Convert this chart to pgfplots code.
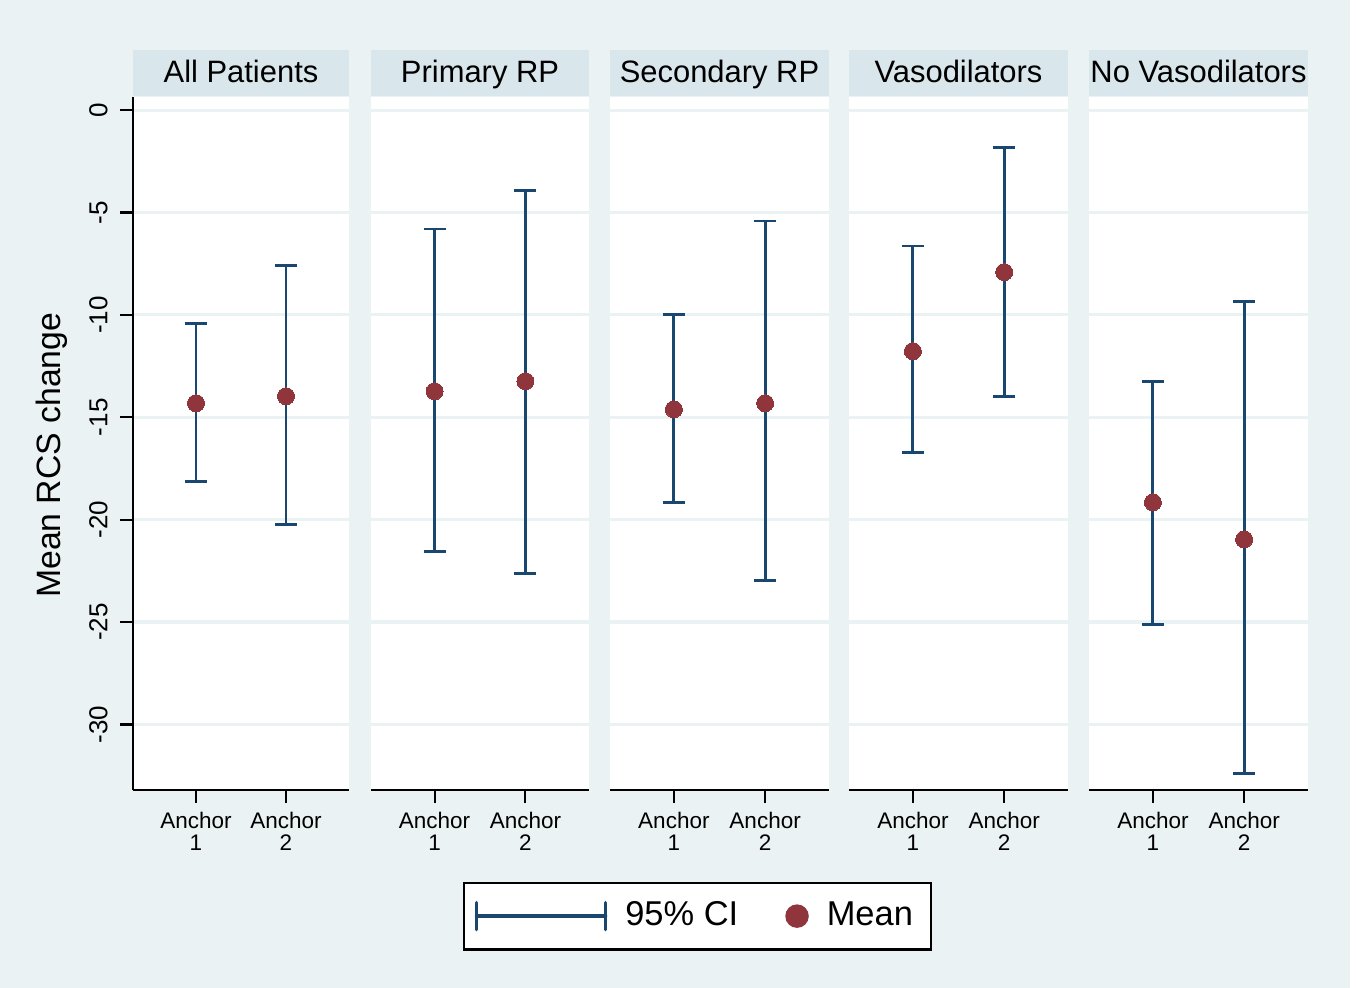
\documentclass[border=0pt]{standalone}
\usepackage{pgfplots}
\pgfplotsset{compat=1.18}
\usepackage{pgfplotstable}
\usepackage{fontspec}
\setmainfont{Liberation Sans}

\definecolor{bgc}{HTML}{EAF2F3}
\definecolor{hdrc}{HTML}{D9E6EB}
\definecolor{gridc}{HTML}{EAF2F3}
\definecolor{navy}{HTML}{1A476F}
\definecolor{maroon}{HTML}{90353B}

% x = anchor, y = mean, ep = upper - mean, em = mean - lower
\pgfplotstableread{
x y ep em
1 -14.31 3.90 3.81
2 -13.97 6.40 6.25
}\tA
\pgfplotstableread{
x y ep em
1 -13.73 7.92 7.81
2 -13.24 9.33 9.38
}\tB
\pgfplotstableread{
x y ep em
1 -14.61 4.64 4.54
2 -14.31 8.89 8.65
}\tC
\pgfplotstableread{
x y ep em
1 -11.77 5.13 4.94
2 -7.91 6.10 6.06
}\tD
\pgfplotstableread{
x y ep em
1 -19.15 5.91 5.96
2 -20.96 11.63 11.43
}\tE

\pgfplotsset{
  panel/.style={
    scale only axis, height=69.3mm,
    xmin=0.3, xmax=2.7, ymin=-33.2, ymax=0.64,
    axis background/.style={fill=white},
    axis x line*=bottom, axis y line*=left,
    axis line style={black, line width=0.6pt, -},
    xtick={1,2}, xticklabels={{Anchor\\1},{Anchor\\2}},
    ytick={-30,-25,-20,-15,-10,-5,0},
    yticklabels={-30,-25,-20,-15,-10,-5,0},
    ymajorgrids, grid style={gridc, line width=0.9pt},
    tick align=outside, major tick length=1.3mm,
    tick style={black, line width=0.6pt},
    xticklabel style={align=center, yshift=0.3mm, font=\fontsize{6.4}{6.2}\selectfont},
    yticklabel style={rotate=90, anchor=south, font=\fontsize{7.4}{8}\selectfont},
    every axis title shift=0pt,
    title style={at={(0.5,1)}, anchor=south, fill=hdrc, inner sep=0pt,
      minimum height=4.6mm, text height=2.6mm, text depth=0.8mm,
      font=\fontsize{8.8}{10}\selectfont},
  },
  noy/.style={y axis line style={draw=none}, ytick style={draw=none}, yticklabels={}},
  cistyle/.style={draw=none, mark=none,
    error bars/y dir=both, error bars/y explicit,
    error bars/error bar style={draw=navy, line width=0.8pt},
    error bars/error mark options={draw=navy, line width=0.8pt, mark size=1.1mm, rotate=90}},
  meanstyle/.style={only marks, mark=*, mark size=0.85mm,
    mark options={draw=maroon, fill=maroon, line width=0pt}},
}

\begin{document}
\begin{tikzpicture}
\fill[white] (-13.3mm,79mm) rectangle (122.4mm,-19.8mm);
\fill[bgc] (-13.3mm,79mm) rectangle (121.7mm,-19.8mm);

\begin{axis}[panel, at={(0mm,0mm)}, anchor=south west, width=21.6mm,
  title={All Patients}, title style={minimum width=21.6mm},
  ylabel={Mean RCS change},
  ylabel style={at={(-0.375,0.483)}, anchor=center, font=\fontsize{9.6}{11}\selectfont}]
\addplot[cistyle] table[x=x, y=y, y error plus=ep, y error minus=em] {\tA};
\addplot[meanstyle] table[x=x, y=y] {\tA};
\end{axis}

\begin{axis}[panel, noy, at={(23.8mm,0mm)}, anchor=south west, width=21.8mm,
  title={Primary RP}, title style={minimum width=21.8mm}]
\addplot[cistyle] table[x=x, y=y, y error plus=ep, y error minus=em] {\tB};
\addplot[meanstyle] table[x=x, y=y] {\tB};
\end{axis}

\begin{axis}[panel, noy, at={(47.7mm,0mm)}, anchor=south west, width=21.9mm,
  title={Secondary RP}, title style={minimum width=21.9mm},
  legend style={at={(0.399,-0.182)}, anchor=center, draw=black, line width=0.7pt,
    fill=white, inner xsep=1.1mm, inner ysep=1.15mm,
    font=\fontsize{9.8}{11}\selectfont,
    /tikz/every odd column/.append style={column sep=1.1mm},
    /tikz/every even column/.append style={column sep=4mm}},
  legend columns=2]
\addplot[cistyle, legend image code/.code={
  \draw[navy, line width=1pt, line cap=round] (0mm,0mm) -- (12.9mm,0mm);
  \draw[navy, line width=1pt, line cap=round] (0mm,-1.35mm) -- (0mm,1.35mm);
  \draw[navy, line width=1pt, line cap=round] (12.9mm,-1.35mm) -- (12.9mm,1.35mm);}]
  table[x=x, y=y, y error plus=ep, y error minus=em] {\tC};
\addlegendentry{95\% CI}
\addplot[meanstyle, legend image code/.code={
  \fill[maroon] (1.05mm,0mm) circle (1.05mm);}] table[x=x, y=y] {\tC};
\addlegendentry{Mean}
\end{axis}

\begin{axis}[panel, noy, at={(71.6mm,0mm)}, anchor=south west, width=21.9mm,
  title={Vasodilators}, title style={minimum width=21.9mm}]
\addplot[cistyle] table[x=x, y=y, y error plus=ep, y error minus=em] {\tD};
\addplot[meanstyle] table[x=x, y=y] {\tD};
\end{axis}

\begin{axis}[panel, noy, at={(95.6mm,0mm)}, anchor=south west, width=21.9mm,
  title={No Vasodilators}, title style={minimum width=21.9mm}]
\addplot[cistyle] table[x=x, y=y, y error plus=ep, y error minus=em] {\tE};
\addplot[meanstyle] table[x=x, y=y] {\tE};
\end{axis}
\end{tikzpicture}
\end{document}
